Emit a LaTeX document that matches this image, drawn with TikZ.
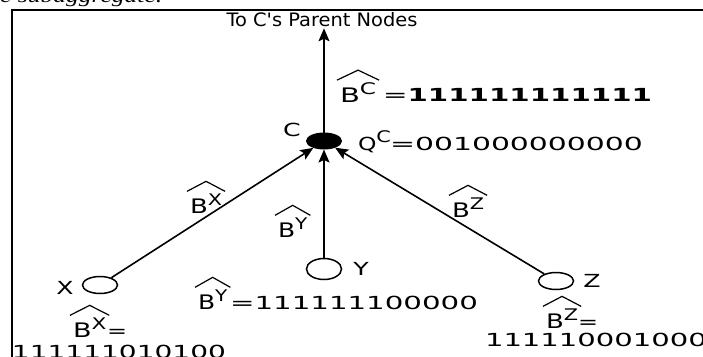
\documentclass[tikz,border=0pt]{standalone}
\usepackage{graphicx}
\usepackage{fontspec}
\setmainfont{DejaVu Sans}
\newfontfamily\dvplain{DejaVu Sans}
\newfontfamily\pageserif{Liberation Serif}
\usetikzlibrary{shapes.geometric,arrows.meta,calc}
\newcommand{\hstretch}[2]{\resizebox{#1}{\height}{#2}}
\newcommand{\letsup}[2]{#1\raisebox{8pt}{\fontsize{16}{16}\selectfont #2}}
\newcommand{\wide}[2]{\scalebox{#1}[1]{#2}}
\begin{document}
\begin{tikzpicture}[x=1pt,y=-1pt,
  txt/.style={inner sep=0pt,outer sep=0pt,font=\fontsize{18}{18}\selectfont},
  bl/.style={inner sep=0pt,outer sep=0pt,anchor=base west,font=\fontsize{20}{20}\selectfont},
  val/.style={inner sep=0pt,outer sep=0pt,anchor=base west,font=\fontsize{18}{18}\selectfont},
  vertex/.style={ellipse,draw,line width=1.5pt,minimum width=35pt,minimum height=17pt,inner sep=0pt},
  root/.style={ellipse,fill=black,draw,line width=1pt,minimum width=35pt,minimum height=16pt,inner sep=0pt},
  edge/.style={line width=1.6pt,-{Stealth[length=13pt,width=11pt,inset=2.5pt]}},
  hatline/.style={line width=1.2pt},
  frame/.style={line width=1.5pt}]
\useasboundingbox (0,0) rectangle (703,356);

% page text fragment above the figure
\node[inner sep=0pt,anchor=base west] (frag) at (0,2)
  {\resizebox{162pt}{\height}{\pageserif\itshape\fontsize{20}{20}\selectfont e subaggregate.}};

% frame
\draw[frame] (12,357) -- (12,10) -- (704,10);

% title
\node[txt,anchor=base] (title) at (322,26) {\wide{1.05}{\dvplain\fontsize{18.5}{18.5}\selectfont To C's Parent Nodes}};

% nodes
\node[root] (C) at (324,141) {};
\node[vertex] (X) at (100,285) {};
\node[vertex,minimum height=21pt] (Y) at (324,269) {};
\node[vertex] (Z) at (556,281) {};

\node[txt] (lC) at (292,130) {\wide{1.4}{C}};
\node[txt] (lX) at (65,288) {\wide{1.4}{X}};
\node[txt] (lY) at (361,269) {\wide{1.4}{Y}};
\node[txt] (lZ) at (592,281) {\wide{1.4}{Z}};

% connectors
\draw[edge] (C) -- ([yshift=-2pt]C |- title.south);
\draw[edge] (X) -- (C);
\draw[edge] (Y) -- (C);
\draw[edge] (Z) -- (C);

% labels with hats
\node[bl] (bc) at (340,102) {\wide{1.45}{\letsup{B}{C}}};
\node[bl] (bx) at (190,213) {\wide{1.3}{\letsup{B}{X}}};
\node[bl] (by) at (278,237) {\wide{1.25}{\letsup{B}{Y}}};
\node[bl] (bz) at (452,217) {\wide{1.3}{\letsup{B}{Z}}};
\node[bl] (byb) at (198,309) {\wide{1.25}{\letsup{B}{Y}}};
\node[bl] (bxb) at (73,337) {\wide{1.35}{\letsup{B}{X}}};
\node[bl] (bzb) at (546,328) {\wide{1.3}{\letsup{B}{Z}}};
\foreach \n in {bc,bx,by,bz,byb,bxb,bzb}{
  \draw[hatline] ([xshift=-3pt,yshift=2pt]\n.north west) -- ([yshift=12pt]\n.north) -- ([xshift=3pt,yshift=2pt]\n.north east);
}

\node[val] (qc) at (358,150) {\wide{1.3}{\letsup{Q}{C}}};

% values
\node[val] (bcv) at (383,101) {\hstretch{269pt}{=\textbf{111111111111}}};
\node[val] (qcv) at (390,150) {\hstretch{253pt}{=001000000000}};
\node[val] (byv) at (230,309) {\hstretch{248pt}{=111111100000}};
\node[val] (bxe) at (107,337) {\hstretch{20pt}{=}};
\node[val] (bxv) at (12,358) {\hstretch{214pt}{111111010100}};
\node[val] (bze) at (578,328) {\hstretch{20pt}{=}};
\node[val] (bzv) at (485,346) {\hstretch{222pt}{111110001000}};
\end{tikzpicture}
\end{document}
